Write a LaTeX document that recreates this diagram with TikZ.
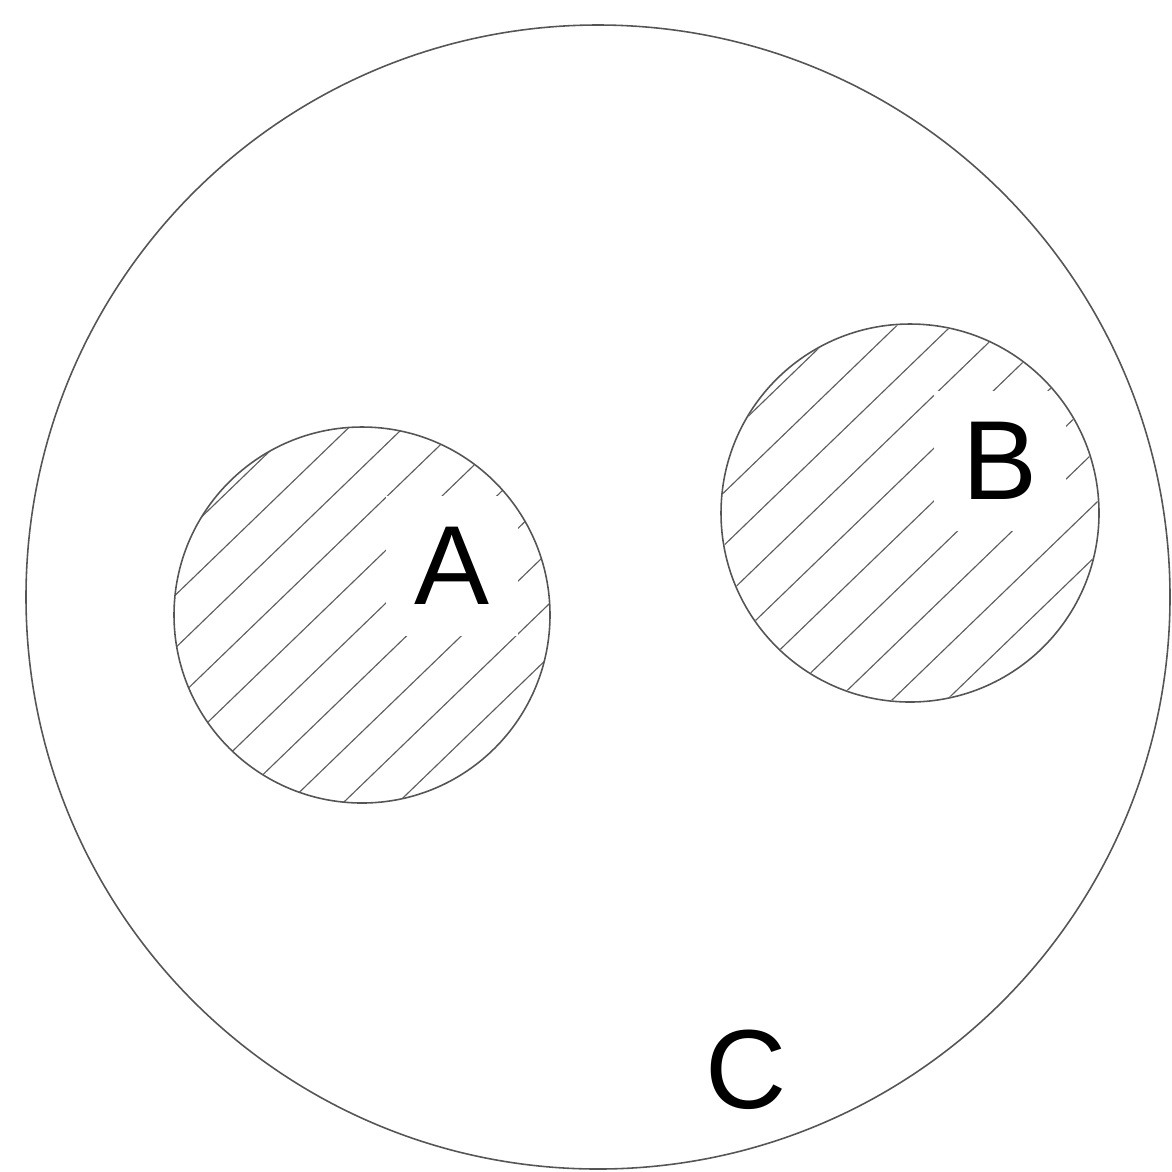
\documentclass[tikz,border=0pt]{standalone}
\usepackage{fontspec}
\setmainfont{Liberation Sans}
\usepackage{tikz}
\usetikzlibrary{calc}
\definecolor{edge}{HTML}{555555}
\definecolor{hatchc}{HTML}{5E5E5E}

\begin{document}
\begin{tikzpicture}[x=0.02cm,y=-0.02cm,
  rim/.style={draw=edge,line width=0.9pt},
  hatch/.style={draw=hatchc,line width=0.65pt},
  lbl/.style={font=\fontsize{64}{76}\selectfont,inner sep=0pt},
  blank/.style={lbl,fill=white,minimum width=2.64cm,minimum height=2.8cm}
]
\useasboundingbox (0,0) rectangle (1172,1171);
\coordinate (cC) at (598,597);
\coordinate (cA) at (362,615);
\coordinate (cB) at (910,513);

% hatching of A and B
\foreach \c in {cA,cB}{
  \begin{scope}
    \clip (\c) circle[radius=188];
    \begin{scope}[shift={(\c)},rotate=44]
      \foreach \d in {-220,-182,...,220}
        \draw[hatch] (-260,\d) -- (260,\d);
    \end{scope}
  \end{scope}
}
\node[blank] (labA) at (452,566) {A};
\node[blank] (labB) at (1000,461) {B};

% outlines
\draw[rim] (cC) circle[radius=572];
\draw[rim] (cA) circle[radius=188];
\draw[rim] (cB) circle[radius=189];
\node[lbl] (labC) at (746,1070) {C};
\end{tikzpicture}
\end{document}
